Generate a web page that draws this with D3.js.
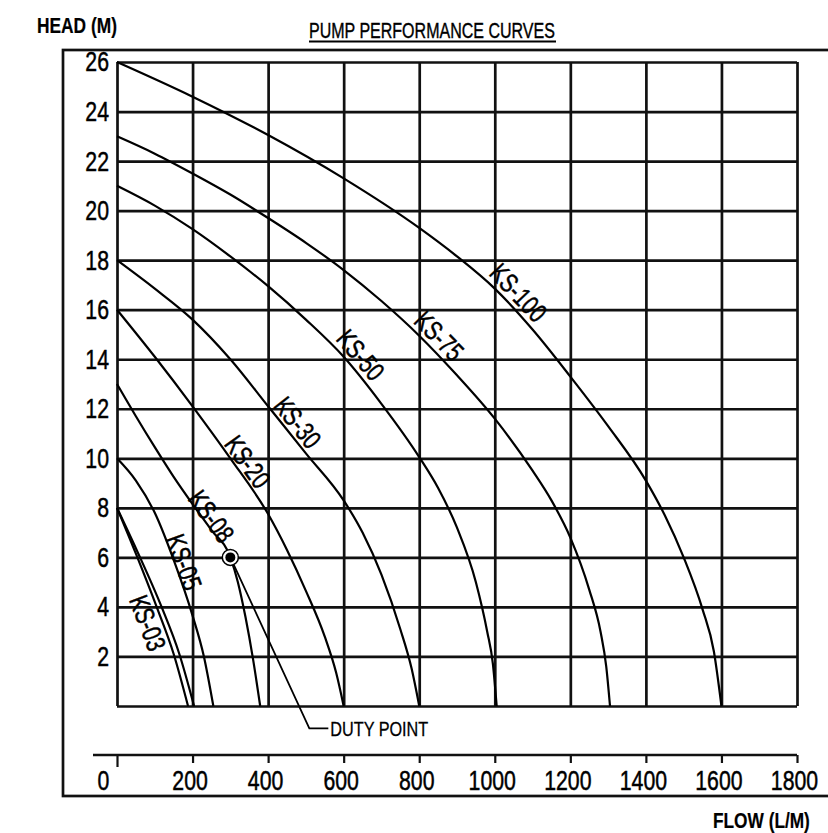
<!DOCTYPE html>
<html>
<head>
<meta charset="utf-8">
<script src="https://cdn.jsdelivr.net/npm/d3@7"></script>
<style>
  html, body { margin: 0; padding: 0; background: #fff; }
  svg text { font-family: "Liberation Sans", Arial, sans-serif; fill: #000; stroke: #000; stroke-width: 0.5px; }
</style>
</head>
<body>
<div id="chart"></div>
<script>
// flow (L/M) and head (M) ticks
const flowTicks = [0, 200, 400, 600, 800, 1000, 1200, 1400, 1600, 1800];
const headTicks = [2, 4, 6, 8, 10, 12, 14, 16, 18, 20, 22, 24, 26];

// pump curves, [flow, head]
const pumpNames = ["KS-100", "KS-75", "KS-50", "KS-30", "KS-20", "KS-08", "KS-05", "KS-03", ""];
const ks100 = [[0,26],[200,24.6],[400,23.05],[600,21.3],[800,19.3],[900,18.15],[1000,16.85],[1100,15.2],[1200,13.3],[1300,11.3],[1400,9.1],[1450,7.7],[1500,6.0],[1550,3.9],[1580,2.2],[1600,0]];
const ks75 = [[0,23],[100,22.3],[200,21.5],[300,20.65],[400,19.7],[500,18.7],[600,17.6],[700,16.35],[800,14.95],[900,13.35],[1000,11.6],[1100,9.5],[1150,8.3],[1200,6.8],[1250,4.7],[1280,3.0],[1295,1.6],[1305,0]];
const ks50 = [[0,21],[100,20.2],[200,19.25],[300,18.15],[400,16.95],[500,15.6],[600,14.1],[700,12.2],[800,10.05],[850,8.8],[900,7.2],[950,5.0],[980,3.0],[995,1.7],[1005,0]];
const ks30 = [[0,18],[100,16.85],[200,15.6],[300,14.0],[400,12.1],[500,10.2],[600,8.3],[650,7.0],[700,5.3],[750,3.1],[780,1.5],[800,0]];
const ks20 = [[0,16],[100,14.1],[200,12.1],[300,10.0],[400,7.75],[450,6.3],[500,4.65],[550,2.8],[580,1.35],[600,0]];
const ks08 = [[0,13],[50,11.7],[100,10.45],[150,9.25],[200,8.15],[250,7.1],[300,6.0],[320,5.0],[340,3.6],[360,1.9],[379,0]];
const ks05 = [[0,10],[50,9.1],[100,7.8],[150,5.9],[200,3.65],[230,2.0],[255,0]];
const ks03 = [[0,8],[50,6.15],[105,4],[150,2.1],[188,0]];
const ks03b = [[0,8],[55,6.2],[118,4],[165,2.1],[204,0]];
const pumpCurves = [ks100, ks75, ks50, ks30, ks20, ks08, ks05, ks03, ks03b];

// duty point
const dutyFlow = 300;
const dutyHead = 6;

const W = 828, H = 833;
const svg = d3.select('#chart').append('svg')
    .attr('width', W)
    .attr('height', H);

const x = d3.scaleLinear().domain([0, 1800]).range([117, 797]);
const y = d3.scaleLinear().domain([0, 26]).range([706, 62]);

const ink = '#111';
const gridW = 2.7;

// squeeze text horizontally (drafting fonts are narrow)
function squeeze(sel, k) {
    sel.each(function() {
        const t = d3.select(this);
        const xv = parseFloat(t.attr('x')) || 0;
        const dxv = parseFloat(t.attr('dx')) || 0;
        t.attr('x', xv / k);
        if (dxv) t.attr('dx', dxv / k);
        t.attr('transform', (t.attr('transform') || '') + ` scale(${k},1)`);
    });
}
// squeeze a text so that it is `w` px wide
function fitTo(sel, w) {
    sel.each(function() {
        squeeze(d3.select(this), w / this.getComputedTextLength());
    });
}

// outer drawing frame (runs off the right edge)
svg.append('rect')
    .attr('x', 63).attr('y', 50)
    .attr('width', 800).attr('height', 746)
    .attr('fill', 'none')
    .attr('stroke', ink)
    .attr('stroke-width', gridW);

// grid: vertical lines
svg.append('g')
    .attr('transform', `translate(0,${y(0)})`)
    .call(d3.axisBottom(x).tickValues(flowTicks).tickSize(-(y(0) - y(26))).tickFormat(''))
    .call(g => g.select('.domain').remove())
    .selectAll('line')
    .attr('stroke', ink)
    .attr('stroke-width', gridW);

// grid: horizontal lines (incl. the zero line)
svg.append('g')
    .attr('transform', `translate(${x(0)},0)`)
    .call(d3.axisLeft(y).tickValues([0].concat(headTicks)).tickSize(-(x(1800) - x(0))).tickFormat(''))
    .call(g => g.select('.domain').remove())
    .selectAll('line')
    .attr('stroke', ink)
    .attr('stroke-width', gridW);

// head labels
svg.append('g')
    .attr('transform', `translate(${x(0)},0)`)
    .call(d3.axisLeft(y).tickValues(headTicks).tickSize(0).tickPadding(8))
    .call(g => g.select('.domain').remove())
    .selectAll('text')
    .style('font-size', '28px')
    .call(squeeze, 0.76);

// separate flow scale bar below the grid
const barY = 755;
svg.append('line')
    .attr('x1', x(0) - 24).attr('x2', x(1800))
    .attr('y1', barY).attr('y2', barY)
    .attr('stroke', ink).attr('stroke-width', gridW);

const flowAxis = svg.append('g')
    .attr('transform', `translate(0,${barY})`)
    .call(d3.axisBottom(x).tickValues(flowTicks).tickSize(8).tickPadding(7).tickFormat(d3.format('d')));
flowAxis.select('.domain').remove();
flowAxis.selectAll('line')
    .attr('stroke', ink)
    .attr('stroke-width', 2.2)
    .attr('y2', d => d === 0 ? 12 : 8);
flowAxis.selectAll('text')
    .style('font-size', '28px')
    .attr('dx', d => d === 0 ? -14 : -3)
    .call(squeeze, 0.76);

// curves
const line = d3.line()
    .x(d => x(d[0]))
    .y(d => y(d[1]))
    .curve(d3.curveMonotoneX);

const curveG = svg.append('g');
const paths = curveG.selectAll('path')
    .data(pumpCurves)
  .enter().append('path')
    .attr('d', line)
    .attr('fill', 'none')
    .attr('stroke', '#000')
    .attr('stroke-width', 2.2);

// curve labels: flow of the foot point on the curve, side offset in px
const labelAt = [
    { flow: 1036, off: 14 },
    { flow: 826, off: 14 },
    { flow: 617, off: 14 },
    { flow: 452, off: 13 },
    { flow: 320, off: 12 },
    { flow: 233, off: 8 },
    { flow: 155, off: 9 },
    { flow: 116, off: -14 }
];

function pointAtFlow(node, flow) {
    const len = node.getTotalLength();
    const tx = x(flow);
    let best = 0, bestD = Infinity;
    for (let s = 0; s <= len; s += 0.5) {
        const p = node.getPointAtLength(s);
        const d = Math.abs(p.x - tx);
        if (d < bestD) { bestD = d; best = s; }
    }
    const p = node.getPointAtLength(best);
    const a = node.getPointAtLength(Math.max(0, best - 8));
    const b = node.getPointAtLength(Math.min(len, best + 8));
    return { x: p.x, y: p.y, ang: Math.atan2(b.y - a.y, b.x - a.x) };
}

paths.each(function(d, i) {
    if (!pumpNames[i]) return;
    const lab = labelAt[i];
    const p = pointAtFlow(this, lab.flow);
    // normal pointing to the upper-right side of the curve
    const nx = Math.sin(p.ang), ny = -Math.cos(p.ang);
    const cx = p.x + nx * lab.off, cy = p.y + ny * lab.off;
    curveG.append('text')
        .attr('transform', `translate(${cx},${cy}) rotate(${p.ang * 180 / Math.PI})`)
        .attr('text-anchor', 'middle')
        .attr('dy', '0.35em')
        .style('font-size', '27px')
        .text(pumpNames[i])
        .call(squeeze, 0.76);
});

// duty point + leader
const dx0 = x(dutyFlow), dy0 = y(dutyHead);
svg.append('circle')
    .attr('cx', dx0).attr('cy', dy0).attr('r', 8)
    .attr('fill', '#fff').attr('stroke', '#000').attr('stroke-width', 1.5);
svg.append('circle')
    .attr('cx', dx0).attr('cy', dy0).attr('r', 5)
    .attr('fill', '#000');
svg.append('path')
    .attr('d', `M${dx0 + 3.5},${dy0 + 7.5} L${dx0 + 79},${dy0 + 171} L${dx0 + 98},${dy0 + 171}`)
    .attr('fill', 'none')
    .attr('stroke', '#000')
    .attr('stroke-width', 1.8);
svg.append('text')
    .attr('x', dx0 + 100).attr('y', dy0 + 171)
    .attr('dy', '0.36em')
    .style('font-size', '21px')
    .style('stroke-width', '0.3px')
    .text('DUTY POINT')
    .call(fitTo, 98);

// titles
svg.append('text')
    .attr('x', 37).attr('y', 33)
    .style('font-size', '22px').style('font-weight', 'bold')
    .style('stroke-width', '0.2px')
    .text('HEAD (M)')
    .call(fitTo, 80);

svg.append('text')
    .attr('x', 309).attr('y', 38)
    .style('font-size', '22px')
    .style('stroke-width', '0.4px')
    .text('PUMP PERFORMANCE CURVES')
    .call(fitTo, 246);
svg.append('line')
    .attr('x1', 309).attr('x2', 556)
    .attr('y1', 41.5).attr('y2', 41.5)
    .attr('stroke', '#000').attr('stroke-width', 2);

svg.append('text')
    .attr('x', 713).attr('y', 828)
    .style('font-size', '22px').style('font-weight', 'bold')
    .style('stroke-width', '0.2px')
    .text('FLOW (L/M)')
    .call(fitTo, 97);
</script>
</body>
</html>
